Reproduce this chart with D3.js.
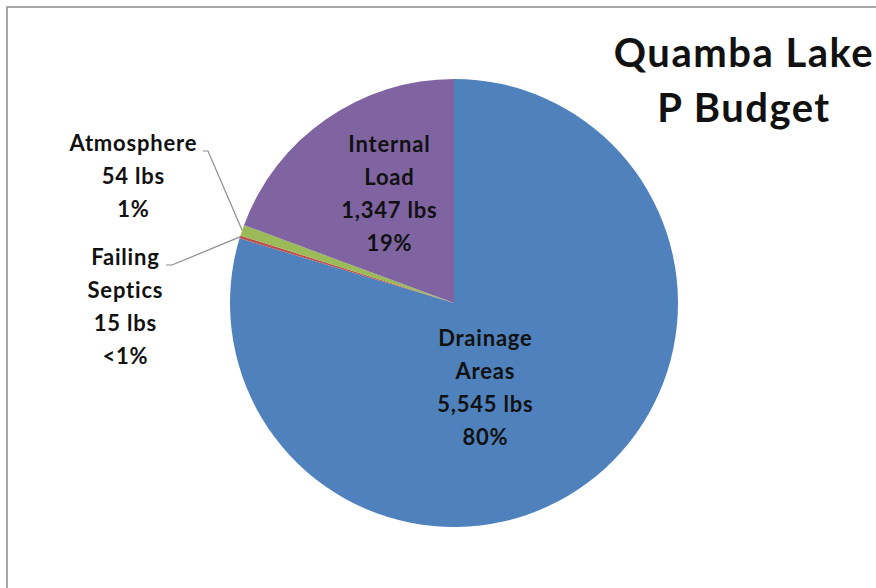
<!DOCTYPE html>
<html>
<head>
<meta charset="utf-8">
<script src="https://cdn.jsdelivr.net/npm/d3@7/dist/d3.min.js"></script>
<style>
html,body{margin:0;padding:0;background:#fff;}
svg{display:block;}
text{font-family:Lato,"Open Sans",sans-serif;font-weight:bold;fill:#111;}
</style>
</head>
<body>
<svg id="chart" width="876" height="588"></svg>
<script>
const categories = ["Drainage Areas", "Failing Septics", "Atmosphere", "Internal Load"];
const values = [5545, 15, 54, 1347];
const percentLabels = ["80%", "<1%", "1%", "19%"];
const colors = ["#4F81BD", "#C0504D", "#9BBB59", "#8064A2"];
const titleLines = ["Quamba Lake", "P Budget"];

const svg = d3.select("#chart");

// frame
svg.append("rect").attr("x", 7).attr("y", 7).attr("width", 900).attr("height", 600)
  .attr("fill", "#fff").attr("stroke", "#8a8a8a").attr("stroke-width", 1.5);

const cx = 454, cy = 303, R = 224;
const g = svg.append("g").attr("transform", `translate(${cx},${cy})`);

const data = categories.map((c, i) => ({name: c, value: values[i], pct: percentLabels[i], color: colors[i]}));
const pie = d3.pie().sort(null).value(d => d.value);
const arcs = pie(data);
const arc = d3.arc().innerRadius(0).outerRadius(R);

g.selectAll("path").data(arcs).join("path")
  .attr("d", arc).attr("fill", d => d.data.color);

const fmt = d3.format(",");
function labelLines(d) {
  const words = d.data.name.split(" ");
  return [...words, fmt(d.data.value) + " lbs", d.data.pct];
}

const lh = 33;
// first-line baseline positions (absolute)
const inside = {
  "Drainage Areas": [485, 346],
  "Internal Load": [389, 152]
};
const outside = {
  "Atmosphere": {pos: [133, 151], line: [[203, 151], [208, 151]]},
  "Failing Septics": {pos: [125, 265], line: [[166, 265], [172, 265]]}
};

arcs.forEach(d => {
  const lines = labelLines(d);
  let p;
  if (inside[d.data.name]) {
    p = inside[d.data.name];
  } else {
    const o = outside[d.data.name];
    p = o.pos;
    const mid = (d.startAngle + d.endAngle) / 2;
    const edge = [cx + Math.sin(mid) * R, cy - Math.cos(mid) * R];
    svg.append("polyline")
      .attr("points", [...o.line, edge].map(q => q.join(",")).join(" "))
      .attr("fill", "none").attr("stroke", "#8c8c8c").attr("stroke-width", 1.2);
  }
  const t = svg.append("text").attr("text-anchor", "middle")
    .style("font-size", "22px").style("letter-spacing", "0.8px");
  lines.forEach((l, i) => {
    t.append("tspan").attr("x", p[0] + 0.4).attr("y", p[1] + i * lh).text(l);
  });
});

// title
const title = svg.append("text").attr("text-anchor", "middle")
  .style("font-size", "40px").style("letter-spacing", "1.5px");
titleLines.forEach((l, i) => {
  title.append("tspan").attr("x", 744).attr("y", 67 + i * 55).text(l);
});
</script>
</body>
</html>
